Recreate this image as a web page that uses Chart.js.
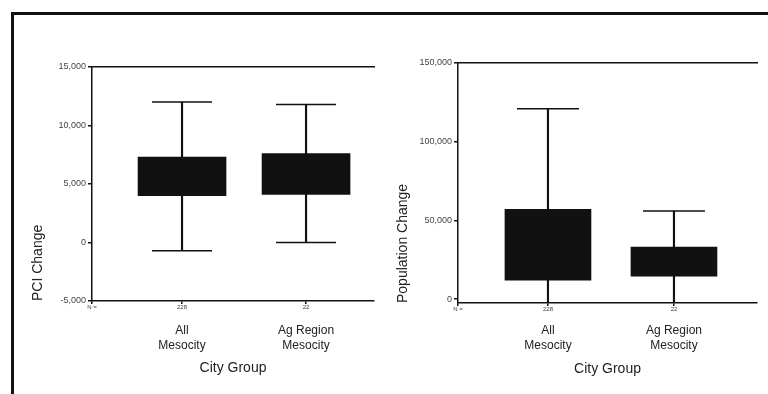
<!DOCTYPE html>
<html lang="en">

<head>
    <meta charset="UTF-8">
    <title>PCI and Population Change by City Group</title>
    <style>
        body {
            margin: 0;
            width: 768px;
            height: 394px;
            overflow: hidden;
            background: #fff;
            font-family: Arial, "Liberation Sans", sans-serif;
        }

        #frame {
            position: absolute;
            left: 11px;
            top: 12px;
            width: 757px;
            height: 382px;
            border-top: 3px solid #111;
            border-left: 3px solid #111;
            box-sizing: border-box;
            pointer-events: none;
        }

        .panel {
            position: absolute;
            top: 0;
            width: 384px;
            height: 394px;
        }
    </style>
    <script src="https://cdn.jsdelivr.net/npm/chart.js"></script>
</head>

<body>
    <div class="panel" style="left:0"><canvas id="pci_chart" width="384" height="394"></canvas></div>
    <div class="panel" style="left:384px"><canvas id="pop_chart" width="384" height="394"></canvas></div>
    <div id="frame"></div>

    <script>
        // categories and counts
        const cityGroups = [['All', 'Mesocity'], ['Ag Region', 'Mesocity']];
        const groupN = ['228', '22'];

        // PCI Change box plot values
        const pciMin = [-700, 0];
        const pciQ1 = [4000, 4100];
        const pciQ3 = [7300, 7600];
        const pciMax = [12000, 11800];
        const pciTicks = [-5000, 0, 5000, 10000, 15000];

        // Population Change box plot values
        const popMin = [-2500, -2500];
        const popQ1 = [12000, 14500];
        const popQ3 = [57000, 33000];
        const popMax = [121000, 56000];
        const popTicks = [0, 50000, 100000, 150000];

        const ink = '#111';

        // horizontal axes keep their labels inside the plot width, so no side padding
        function noSidePadding(scale, h) {
            scale.height = h;
            scale.paddingLeft = 0;
            scale.paddingRight = 0;
        }

        function makeBoxChart(id, s) {
            const idx = cityGroups.map((c, i) => i);
            const boxData = idx.map(i => ({ x: i, y: [s.q1[i], s.q3[i]] }));
            const whiskerData = idx.map(i => ({ x: i, y: [s.min[i], s.max[i]] }));
            const topCaps = idx.map(i => ({ x: i, y: s.max[i] }));
            const lowCaps = idx.map(i => ({ x: i, y: s.min[i] }));

            const capSet = data => ({
                type: 'line',
                data: data,
                showLine: false,
                pointStyle: 'line',
                pointRadius: s.capRadius,
                pointHoverRadius: s.capRadius,
                borderColor: ink,
                borderWidth: 1.5,
                xAxisID: 'x',
                yAxisID: 'y'
            });

            return new Chart(document.getElementById(id), {
                type: 'bar',
                data: {
                    datasets: [{
                        data: boxData,
                        backgroundColor: ink,
                        borderWidth: 0,
                        barThickness: s.boxWidth,
                        grouped: false,
                        xAxisID: 'x',
                        yAxisID: 'y'
                    }, {
                        data: whiskerData,
                        backgroundColor: ink,
                        borderWidth: 0,
                        barThickness: 1.5,
                        grouped: false,
                        xAxisID: 'x',
                        yAxisID: 'y'
                    },
                    capSet(topCaps),
                    capSet(lowCaps)]
                },
                options: {
                    responsive: false,
                    animation: false,
                    devicePixelRatio: 1,
                    layout: { padding: s.padding, autoPadding: false },
                    plugins: {
                        legend: { display: false },
                        tooltip: { enabled: false }
                    },
                    scales: {
                        x: {
                            type: 'linear',
                            position: 'bottom',
                            weight: 0,
                            min: s.xMin,
                            max: s.xMax,
                            offset: false,
                            afterBuildTicks: scale => {
                                scale.ticks = [{ value: s.xMin }].concat(idx.map(i => ({ value: i })));
                            },
                            afterFit: scale => noSidePadding(scale, 12),
                            ticks: {
                                autoSkip: false,
                                maxRotation: 0,
                                padding: 0,
                                color: '#444',
                                font: { size: 6 },
                                callback: (v, i) => i === 0 ? 'N =' : groupN[i - 1]
                            },
                            grid: {
                                display: true,
                                offset: false,
                                drawOnChartArea: false,
                                drawTicks: true,
                                tickLength: 3,
                                color: ink,
                                lineWidth: 1.5
                            },
                            border: { display: true, color: ink, width: 1.5 }
                        },
                        x2: {
                            type: 'linear',
                            position: 'bottom',
                            weight: 1,
                            min: s.xMin,
                            max: s.xMax,
                            offset: false,
                            afterBuildTicks: scale => {
                                scale.ticks = idx.map(i => ({ value: i }));
                            },
                            afterFit: scale => noSidePadding(scale, s.x2Height),
                            ticks: {
                                autoSkip: false,
                                maxRotation: 0,
                                padding: s.x2Pad,
                                color: '#222',
                                font: { size: 12, lineHeight: 1.25 },
                                callback: (v, i) => cityGroups[i]
                            },
                            grid: { display: false, drawTicks: false },
                            border: { display: false },
                            title: {
                                display: true,
                                text: 'City Group',
                                color: '#222',
                                font: { size: 14 },
                                padding: 0
                            }
                        },
                        xTop: {
                            type: 'linear',
                            position: 'top',
                            min: s.xMin,
                            max: s.xMax,
                            offset: false,
                            afterFit: scale => noSidePadding(scale, 0),
                            ticks: { display: false },
                            grid: { display: false, drawTicks: false },
                            border: { display: true, color: ink, width: 1.5 }
                        },
                        y: {
                            type: 'linear',
                            position: 'left',
                            min: s.yMin,
                            max: s.yMax,
                            afterBuildTicks: scale => {
                                scale.ticks = s.yTicks.map(v => ({ value: v }));
                            },
                            afterFit: scale => { scale.width = s.yWidth; },
                            ticks: {
                                padding: 2,
                                color: '#444',
                                font: { size: 9 },
                                callback: v => v.toLocaleString('en-US')
                            },
                            grid: {
                                display: true,
                                drawOnChartArea: false,
                                drawTicks: true,
                                tickLength: 4,
                                color: ink,
                                lineWidth: 1.5
                            },
                            border: { display: true, color: ink, width: 1.5 },
                            title: {
                                display: true,
                                text: s.yTitle,
                                align: 'start',
                                color: '#222',
                                font: { size: 14 },
                                padding: { top: s.yTitlePad, bottom: 0 }
                            }
                        }
                    }
                }
            });
        }

        makeBoxChart('pci_chart', {
            min: pciMin, q1: pciQ1, q3: pciQ3, max: pciMax,
            yTicks: pciTicks, yMin: -5000, yMax: 15000,
            yTitle: 'PCI Change',
            xMin: -0.726, xMax: 1.548,
            padding: { left: 0, top: 67, right: 10, bottom: 17 },
            yWidth: 92, yTitlePad: 30,
            x2Height: 64, x2Pad: 10.5,
            boxWidth: 88, capRadius: 30
        });

        makeBoxChart('pop_chart', {
            min: popMin, q1: popQ1, q3: popQ3, max: popMax,
            yTicks: popTicks, yMin: -2500, yMax: 150000,
            yTitle: 'Population Change',
            xMin: -0.714, xMax: 1.659,
            padding: { left: 0, top: 63, right: 11, bottom: 16 },
            yWidth: 74, yTitlePad: 10.6,
            x2Height: 63, x2Pad: 8.5,
            boxWidth: 86, capRadius: 31
        });
    </script>
</body>

</html>
